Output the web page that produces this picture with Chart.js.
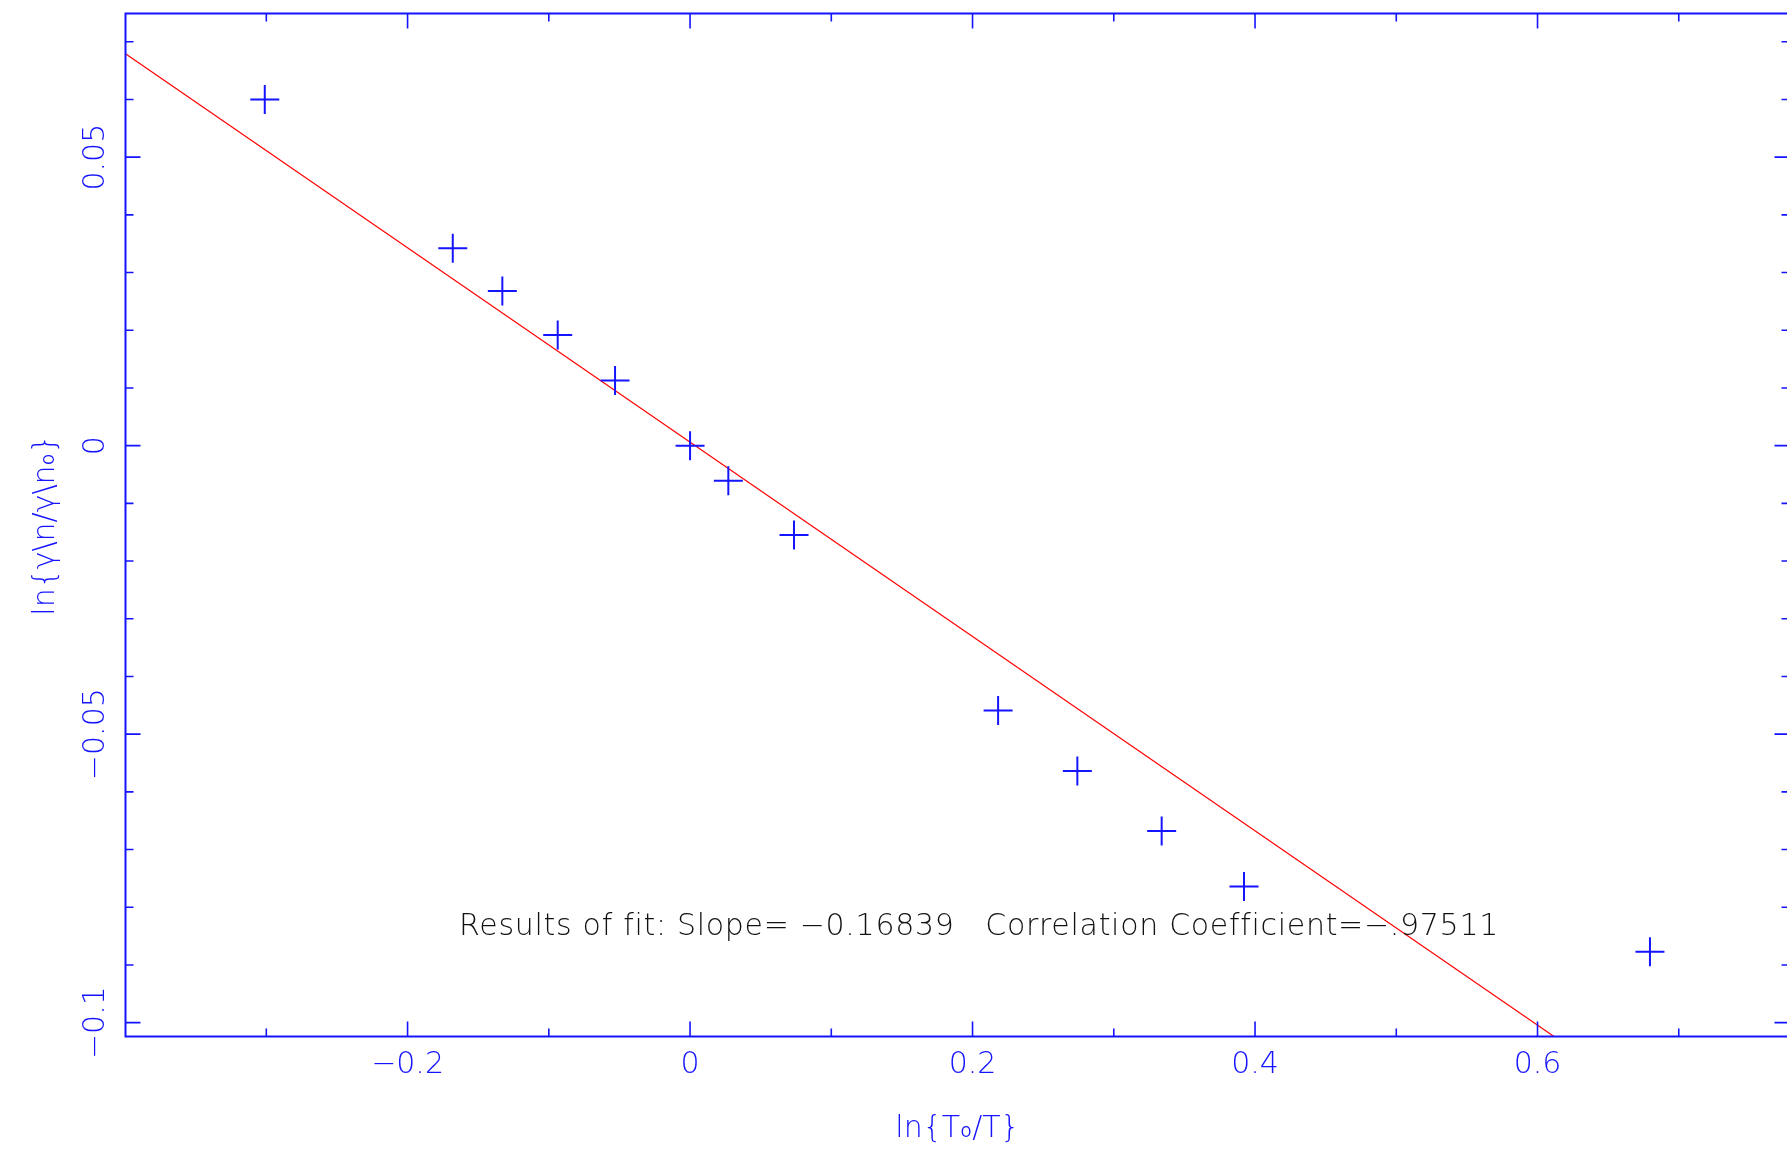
<!DOCTYPE html>
<html>
<head>
<meta charset="utf-8">
<script src="https://cdn.jsdelivr.net/npm/chart.js@4.4.1/dist/chart.umd.min.js"></script>
<style>
  html, body { margin: 0; padding: 0; background: #fff; overflow: hidden; }
  #wrap { width: 1790px; height: 1157px; }
</style>
</head>
<body>
<div id="wrap"><canvas id="fit" width="1790" height="1157"></canvas></div>
<script>
// measured points: ln{T0/T} vs ln{gamma n / gamma n0}
const lnTRatio = [-0.3011, -0.1680, -0.1329, -0.0937, -0.0531, 0, 0.0271, 0.0736, 0.2181, 0.2742, 0.3339, 0.3922, 0.6796];
const lnGammaRatio = [0.0600, 0.0342, 0.0268, 0.0192, 0.0113, 0, -0.0061, -0.0155, -0.0459, -0.0564, -0.0668, -0.0764, -0.0877];

// straight line fit
const fitSlope = -0.16839;
const fitIntercept = 0.0006;
const corrCoef = -0.97511;

// axes
const xRange = [-0.3997, 0.7784];
const yRange = [-0.1024, 0.0749];
const xMinorStep = 0.1;
const yMinorStep = 0.01;
const xLabelVals = [-0.2, 0, 0.2, 0.4, 0.6];
const xLabelText = ['\u22120.2', '0', '0.2', '0.4', '0.6'];
const yLabelVals = [-0.1, -0.05, 0, 0.05];
const yLabelText = ['\u22120.1', '\u22120.05', '0', '0.05'];

const blue = '#1414ff';
const family = "'DejaVu Sans', 'Liberation Sans', sans-serif";

function labelFor(value, vals, texts) {
  const i = vals.findIndex(v => Math.abs(v - value) < 1e-9);
  return i < 0 ? '' : texts[i];
}

const points = lnTRatio.map((x, i) => ({x: x, y: lnGammaRatio[i]}));
const fitLine = xRange.map(x => ({x: x, y: fitIntercept + fitSlope * x}));

// pgplot style box: frame, inward ticks, rotated y labels, fit text
const pgBox = {
  id: 'pgBox',
  afterDraw(chart) {
    const {ctx, chartArea: a, scales: {x, y}} = chart;
    ctx.save();
    ctx.strokeStyle = blue;
    ctx.lineWidth = 2;
    ctx.strokeRect(a.left, a.top, a.right - a.left, a.bottom - a.top);

    ctx.lineWidth = 1.6;
    ctx.beginPath();
    x.ticks.forEach(t => {
      const px = x.getPixelForValue(t.value);
      const len = labelFor(t.value, xLabelVals, xLabelText) ? 15 : 8;
      ctx.moveTo(px, a.bottom); ctx.lineTo(px, a.bottom - len);
      ctx.moveTo(px, a.top); ctx.lineTo(px, a.top + len);
    });
    y.ticks.forEach(t => {
      const py = y.getPixelForValue(t.value);
      const len = labelFor(t.value, yLabelVals, yLabelText) ? 15 : 8;
      ctx.moveTo(a.left, py); ctx.lineTo(a.left + len, py);
      ctx.moveTo(a.right, py); ctx.lineTo(a.right - len, py);
    });
    ctx.stroke();

    ctx.fillStyle = blue;
    ctx.font = '300 30px ' + family;
    ctx.textAlign = 'center';
    ctx.textBaseline = 'alphabetic';
    y.ticks.forEach(t => {
      const s = labelFor(t.value, yLabelVals, yLabelText);
      if (!s) return;
      ctx.save();
      ctx.translate(a.left - 21.5, y.getPixelForValue(t.value));
      ctx.rotate(-Math.PI / 2);
      ctx.fillText(s, 0, 0);
      ctx.restore();
    });

    const slopeTxt = fitSlope.toFixed(5).replace('-', '\u2212');
    const corrTxt = corrCoef.toFixed(5).replace('-0.', '\u2212.');
    ctx.fillStyle = '#111';
    ctx.textAlign = 'left';
    ctx.letterSpacing = '0.7px';
    ctx.fillText('Results of fit: Slope= ' + slopeTxt + '   Correlation Coefficient=' + corrTxt,
      x.getPixelForValue(-0.1635), y.getPixelForValue(-0.0848));
    ctx.restore();
  }
};

new Chart(document.getElementById('fit'), {
  type: 'scatter',
  data: {
    datasets: [
      {
        label: 'data',
        data: points,
        pointStyle: 'cross',
        pointRadius: 14.5,
        pointBorderWidth: 2,
        borderColor: blue,
        backgroundColor: blue,
      },
      {
        label: 'fit',
        data: fitLine,
        showLine: true,
        pointRadius: 0,
        borderColor: '#ff0000',
        borderWidth: 1.2,
      },
    ],
  },
  options: {
    responsive: false,
    animation: false,
    events: [],
    layout: { autoPadding: false, padding: { top: 13.5, right: 0.5, bottom: 0, left: 0 } },
    plugins: {
      legend: { display: false },
      tooltip: { enabled: false },
    },
    scales: {
      x: {
        type: 'linear',
        min: xRange[0],
        max: xRange[1],
        grid: { display: false, drawTicks: false },
        border: { display: false },
        ticks: {
          stepSize: xMinorStep,
          maxTicksLimit: 100,
          includeBounds: false,
          autoSkip: false,
          maxRotation: 0,
          padding: 10.5,
          color: blue,
          font: { family: family, size: 30, weight: '300' },
          callback: v => labelFor(v, xLabelVals, xLabelText),
        },
        title: {
          display: true,
          text: 'ln{T\u2080/T}',
          color: blue,
          font: { family: family, size: 30, weight: '300' },
          padding: { top: 0, bottom: 9.5 },
        },
        afterFit: s => { s.height = 120.5; },
      },
      y: {
        type: 'linear',
        min: yRange[0],
        max: yRange[1],
        grid: { display: false, drawTicks: false },
        border: { display: false },
        ticks: {
          display: false,
          stepSize: yMinorStep,
          maxTicksLimit: 100,
          includeBounds: false,
        },
        title: {
          display: true,
          text: 'ln{\u03b3\\n/\u03b3\\n\u2080}',
          color: blue,
          font: { family: family, size: 30, weight: '300' },
          padding: { top: 28.5, bottom: 0 },
        },
        afterFit: s => { s.width = 125.5; },
      },
    },
  },
  plugins: [pgBox],
});
</script>
</body>
</html>
